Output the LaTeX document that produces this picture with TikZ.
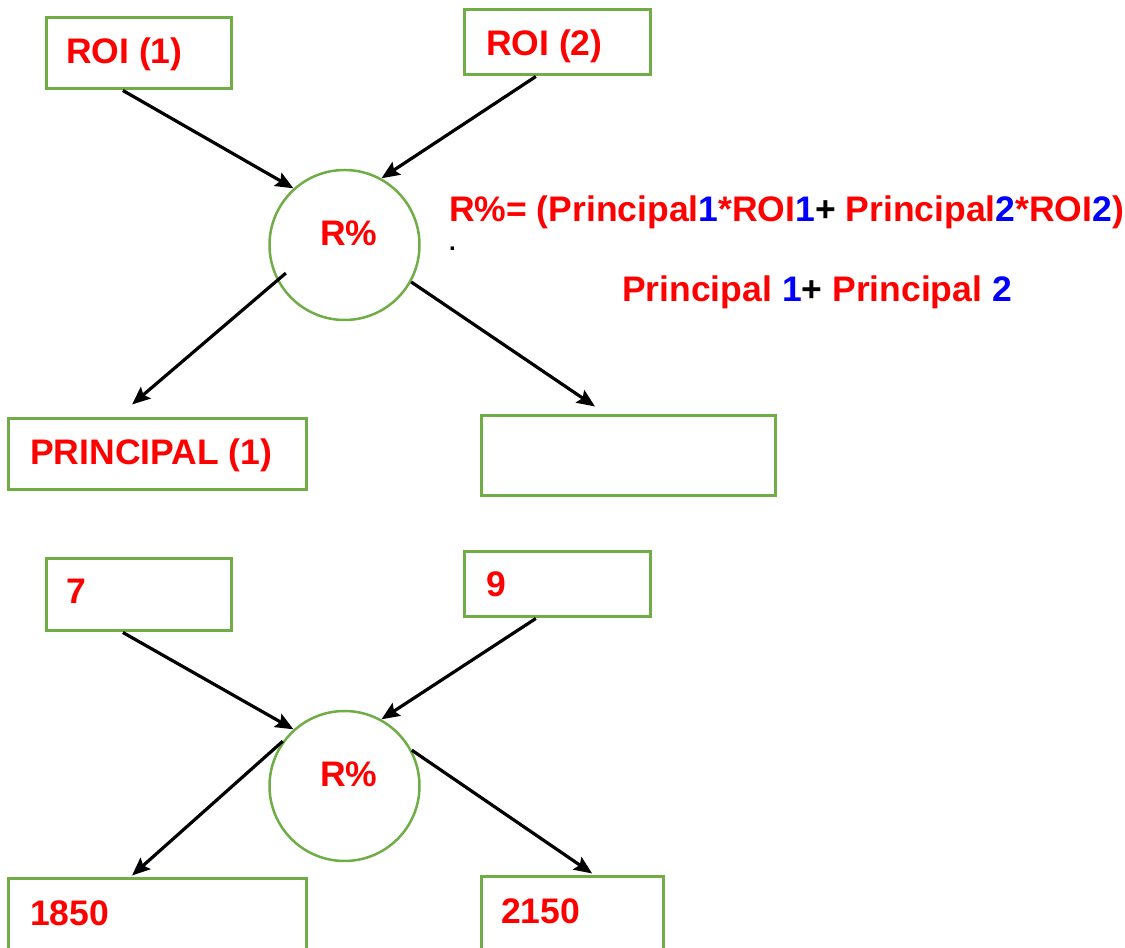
\documentclass[tikz,border=0pt]{standalone}
\usepackage{fontspec}
\setmainfont{Liberation Sans}
\usetikzlibrary{arrows.meta,calc}
\definecolor{boxgreen}{HTML}{70AD47}
\begin{document}
\begin{tikzpicture}[x=1pt,y=1pt,
  box/.style={draw=boxgreen,line width=3pt,inner sep=0pt},
  ring/.style={circle,draw=boxgreen,line width=2.5pt,minimum size=150pt,inner sep=0pt},
  lbl/.style={anchor=base west,inner sep=0pt,text=red,font=\bfseries\fontsize{35.5}{40}\selectfont},
  arr/.style={line width=3.2pt,-{Stealth[length=18pt,width=15pt,inset=3pt]}}]
\useasboundingbox (0,0) rectangle (1125,948);
\clip (0,0) rectangle (1125,948);
% ---- top diagram ----
\node[box,minimum width=185pt,minimum height=71pt] (roi1) at (138.5,894.5) {};
\node[box,minimum width=186pt,minimum height=65pt] (roi2) at (557,905.5) {};
\node[ring] (c1) at (344.5,703) {};
\node[box,minimum width=298pt,minimum height=71pt] (p1) at (157,493.5) {};
\node[box,minimum width=294pt,minimum height=80pt] (p2) at (628,492) {};
\node[lbl] (troi1) at (66,884) {ROI (1)};
\node[lbl] (troi2) at (486,892) {ROI (2)};
\node[lbl] (tc1) at (320,702) {R\%};
\node[lbl] (tp1) at (30,483) {PRINCIPAL (1)};
\node[lbl] (f1) at (449,726) {R\%= (Principal\textcolor{blue}{1}*ROI\textcolor{blue}{1}\textcolor{black}{+} Principal\textcolor{blue}{2}*ROI\textcolor{blue}{2})};
\node[anchor=base west,inner sep=0pt,font=\bfseries\fontsize{24}{26}\selectfont] (dot) at (449,697.3) {.};
\node[lbl] (f2) at (622,646) {Principal \textcolor{blue}{1}\textcolor{black}{+} Principal \textcolor{blue}{2}};
\draw[arr] ($(roi1.south west)!0.417!(roi1.south east)$) -- (c1.132);
\draw[arr] ($(roi2.south west)!0.388!(roi2.south east)$) -- (c1.61);
\draw[arr] ($(c1.center)+(205.6:65)$) -- ($(p1.north west)!0.417!(p1.north east)+(0,13)$);
\draw[arr] (c1.-29) -- ($(p2.north west)!0.389!(p2.north east)+(0,8)$);
% ---- bottom diagram ----
\node[box,minimum width=185pt,minimum height=72pt] (v7) at (138.5,353) {};
\node[box,minimum width=186pt,minimum height=65pt] (v9) at (557,363.5) {};
\node[ring] (c2) at (344.5,162) {};
\node[box,minimum width=298pt,minimum height=89pt] (v1850) at (157,24.5) {};
\node[box,minimum width=182pt,minimum height=91pt] (v2150) at (572,25.5) {};
\node[lbl] (t7) at (66,344) {7};
\node[lbl] (t9) at (486,351) {9};
\node[lbl] (tc2) at (320,161) {R\%};
\node[lbl] (t1850) at (30,22) {1850};
\node[lbl] (t2150) at (501,24) {2150};
\draw[arr] ($(v7.south west)!0.417!(v7.south east)$) -- (c2.132);
\draw[arr] ($(v9.south west)!0.388!(v9.south east)$) -- (c2.61);
\draw[arr] (c2.144) -- ($(v1850.north west)!0.417!(v1850.north east)+(0,2)$);
\draw[arr] (c2.28) -- ($(v2150.north west)!0.609!(v2150.north east)+(0,2)$);
\end{tikzpicture}
\end{document}
